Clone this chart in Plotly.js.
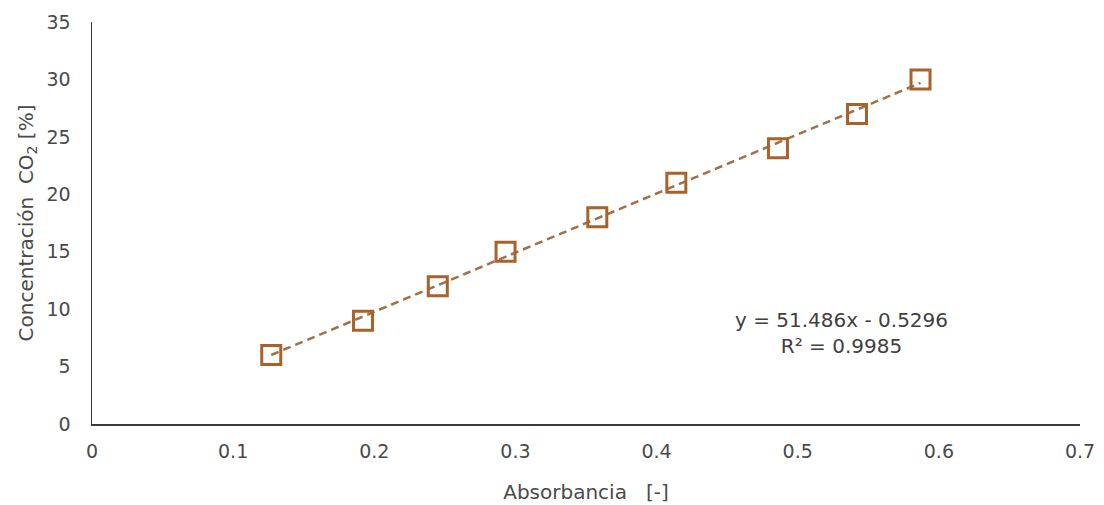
<!DOCTYPE html>
<html>
<head>
<meta charset="utf-8">
<script src="https://cdn.plot.ly/plotly-3.0.1.min.js"></script>
<style>
html,body{margin:0;padding:0;background:#fff;}
#chart{width:1104px;height:505px;}
</style>
</head>
<body>
<div id="chart"></div>
<script>
// Data
const absorbancia = [0.127, 0.192, 0.245, 0.293, 0.358, 0.414, 0.486, 0.542, 0.587];
const concentracion = [6, 9, 12, 15, 18, 21, 24, 27, 30];
// Trendline parameters as displayed on the chart
const slope = 51.486;
const intercept = -0.5296;
const r2 = 0.9985;
const xTicks = [0, 0.1, 0.2, 0.3, 0.4, 0.5, 0.6, 0.7];
const xTickLabels = ['0', '0.1', '0.2', '0.3', '0.4', '0.5', '0.6', '0.7'];
const yTicks = [0, 5, 10, 15, 20, 25, 30, 35];

const xMin = Math.min(...absorbancia), xMax = Math.max(...absorbancia);
const trendX = [xMin, xMax];
const trendY = trendX.map(x => slope * x + intercept);

const markerColor = '#A9622A';
const font = '"DejaVu Sans", Verdana, sans-serif';
const textColor = '#4a4a4a';

const traces = [
  {
    x: trendX, y: trendY, mode: 'lines', type: 'scatter',
    line: {color: '#A07048', width: 2.5, dash: '8px,5px'},
    hoverinfo: 'skip', showlegend: false
  },
  {
    x: absorbancia, y: concentracion, mode: 'markers', type: 'scatter',
    marker: {symbol: 'square-open', size: 19, color: markerColor, line: {width: 3, color: markerColor}},
    showlegend: false
  }
];

const layout = {
  width: 1104, height: 505,
  margin: {l: 92, r: 24, t: 22, b: 81},
  paper_bgcolor: '#ffffff', plot_bgcolor: '#ffffff',
  font: {family: font, color: textColor, size: 19},
  xaxis: {
    range: [0, 0.7], tickvals: xTicks, ticktext: xTickLabels,
    showgrid: false, zeroline: false, showline: true, linecolor: '#3a3a3a', linewidth: 1.5,
    ticks: 'outside', ticklen: 10, tickcolor: 'rgba(0,0,0,0)',
    tickfont: {family: font, size: 19, color: textColor},
    automargin: false,
    title: {text: 'Absorbancia   [-]', font: {family: font, size: 20, color: textColor}, standoff: 23}
  },
  yaxis: {
    range: [0, 35], tickvals: yTicks,
    showgrid: false, zeroline: false, showline: true, linecolor: '#3a3a3a', linewidth: 1.5,
    ticks: 'outside', ticklen: 16, tickcolor: 'rgba(0,0,0,0)',
    tickfont: {family: font, size: 19, color: textColor},
    automargin: false,
    title: {text: 'Concentración  CO<sub>2</sub> [%]', font: {family: font, size: 20, color: textColor}, standoff: 7}
  },
  annotations: [
    {
      xref: 'paper', yref: 'paper', x: (841 - 92) / 988, y: (424 - 333) / 402,
      text: 'y = ' + slope + 'x - ' + Math.abs(intercept) + '<br>R² = ' + r2,
      showarrow: false, align: 'center', xanchor: 'center', yanchor: 'middle',
      font: {family: font, size: 20, color: '#404040'}
    }
  ]
};

Plotly.newPlot('chart', traces, layout, {displayModeBar: false, staticPlot: true});
</script>
</body>
</html>
